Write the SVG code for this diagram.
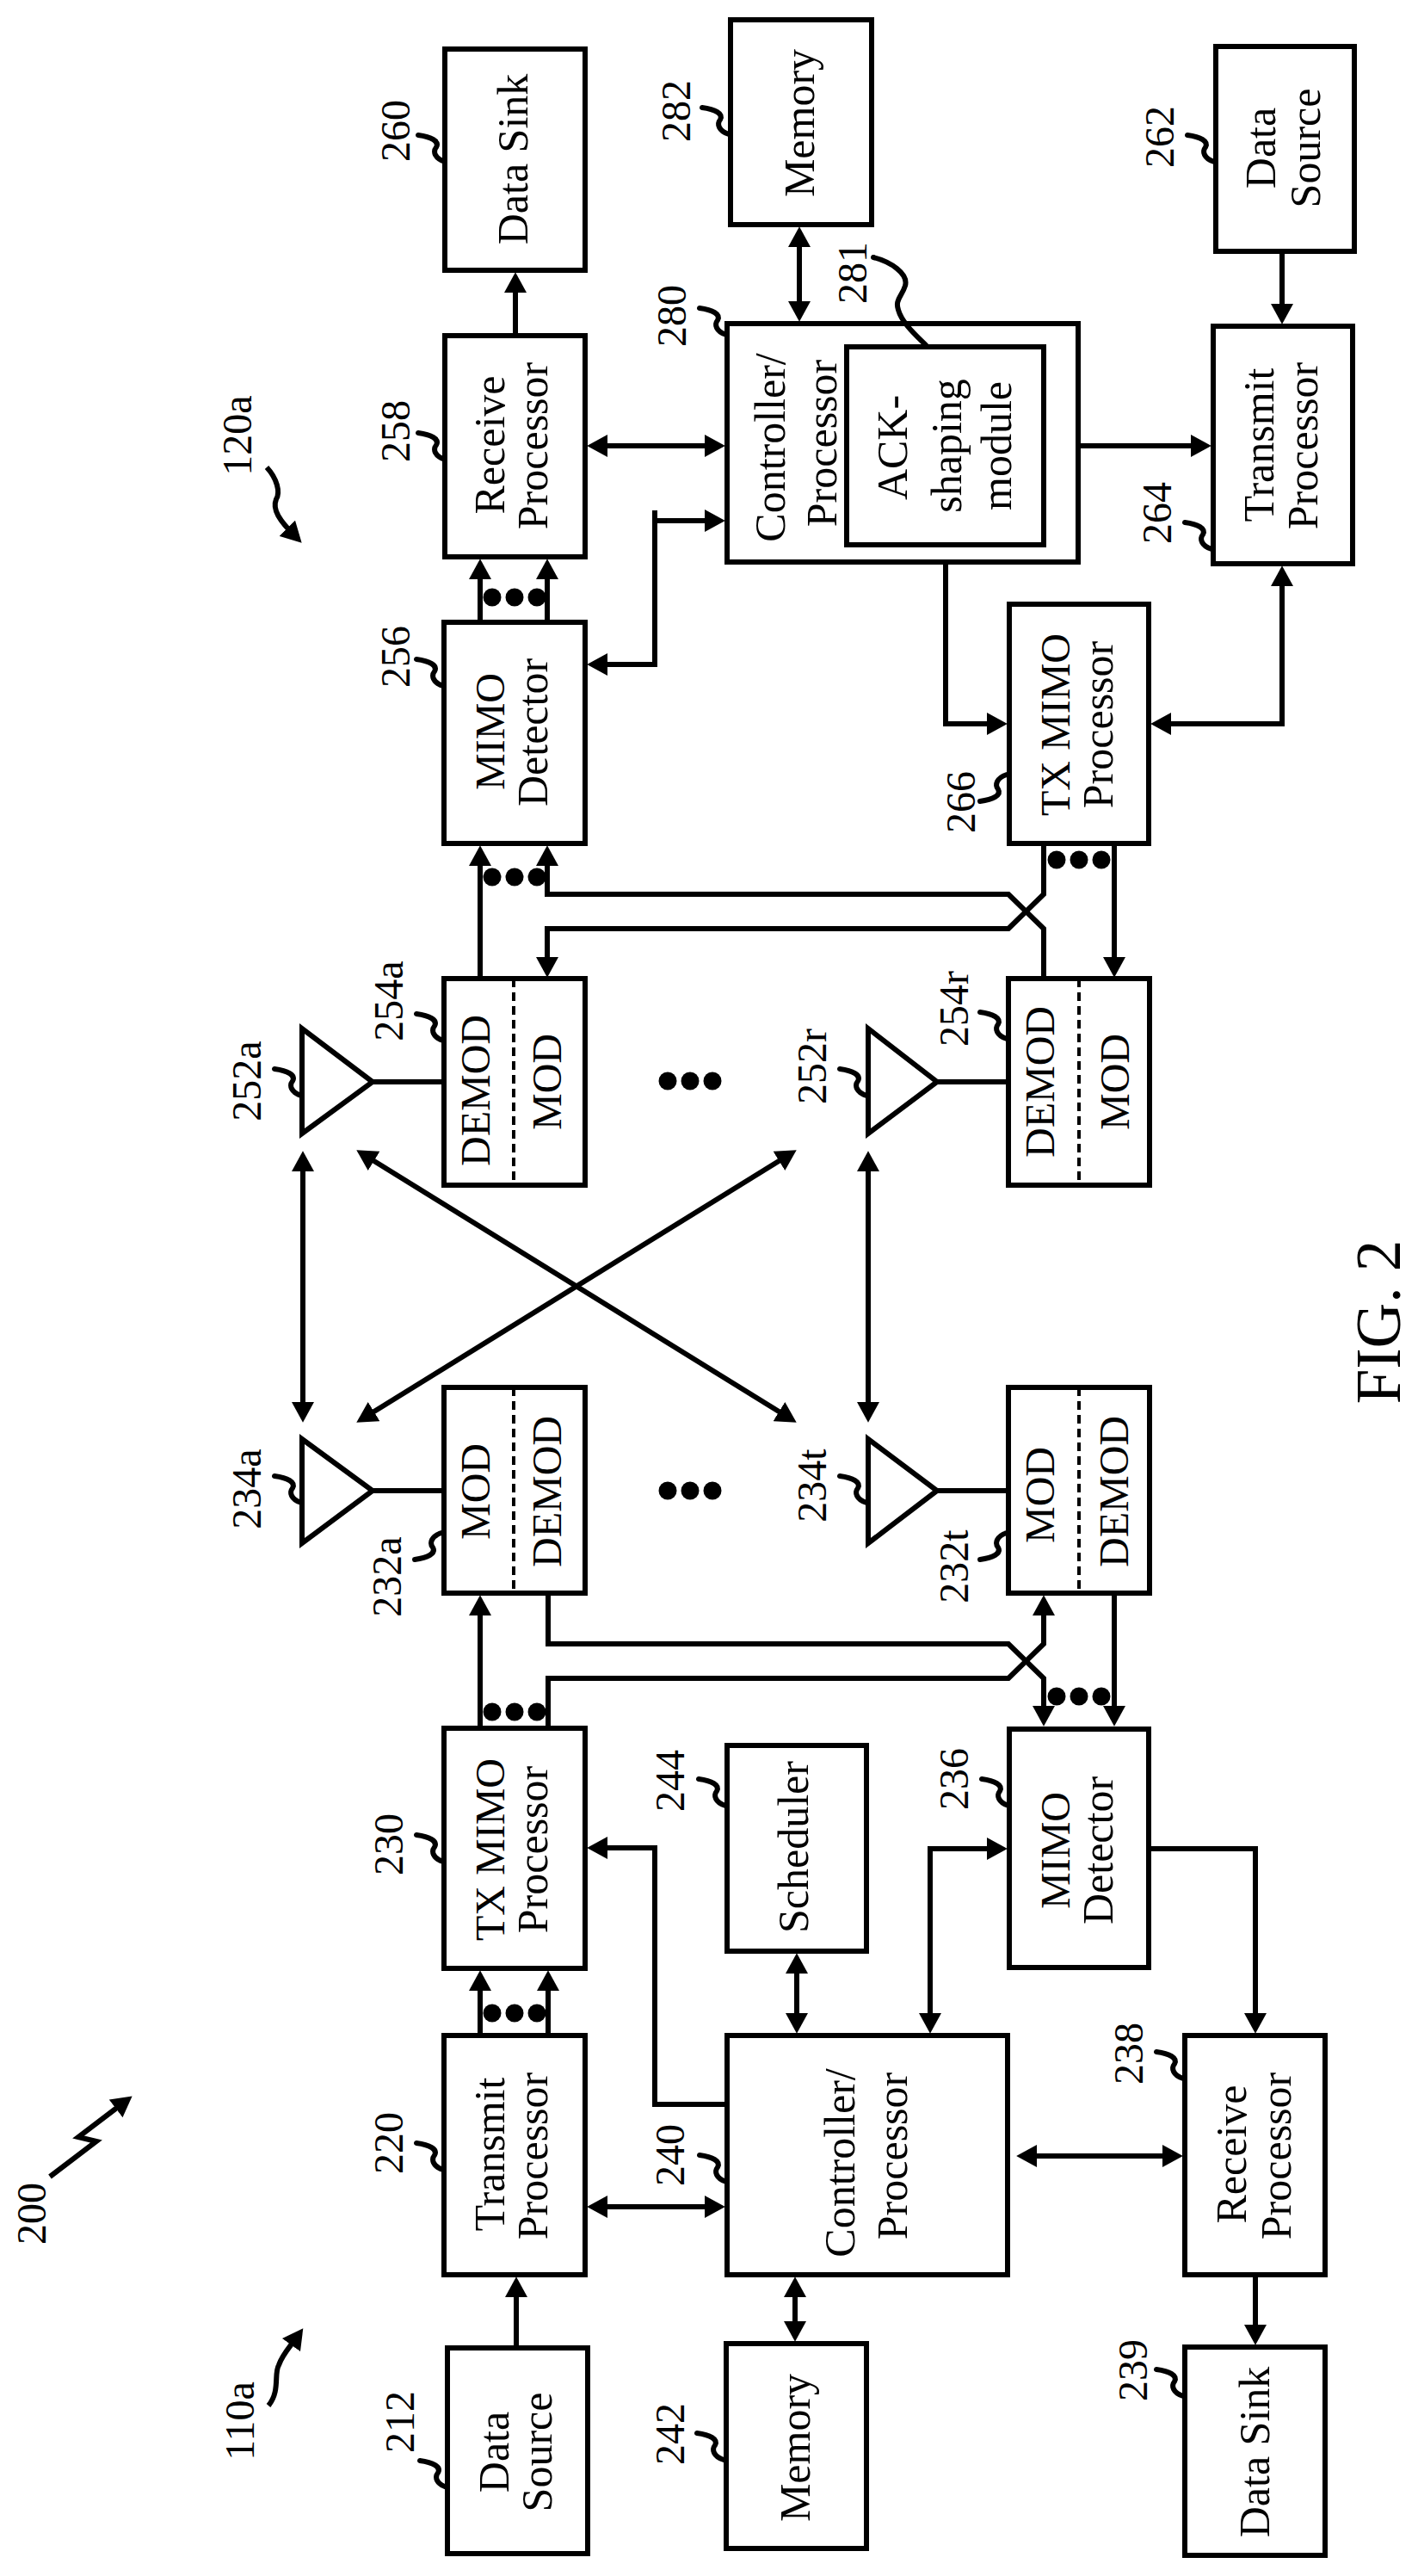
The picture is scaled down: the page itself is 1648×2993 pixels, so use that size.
<svg xmlns="http://www.w3.org/2000/svg" xmlns:xlink="http://www.w3.org/1999/xlink" width="1648" height="2993" viewBox="0 0 1648 2993">
<style>
text{font-family:"Liberation Serif","Times New Roman",serif;fill:#000;text-anchor:middle}
.t{font-size:50px}.u{font-size:48px}.r{font-size:48px}.f{font-size:73px}
.b{fill:#fff;stroke:#000;stroke-width:6}
.l{fill:none;stroke:#000;stroke-width:6}
.a{marker-end:url(#ah)}.d{marker-start:url(#ah);marker-end:url(#ah)}
.q{fill:none;stroke:#000;stroke-width:6;stroke-linecap:round}
.dash{fill:none;stroke:#000;stroke-width:4;stroke-dasharray:10 6}
</style>
<defs>
<marker id="ah" markerUnits="userSpaceOnUse" markerWidth="24" markerHeight="26" viewBox="0 0 22 24" refX="12" refY="12" orient="auto-start-reverse"><path d="M0,0L22,12L0,24Z" fill="#000"/></marker>
<path id="sq" class="q" d="M0,0C-12,-4 -14,-12 -10,-17C-6,-24 -16,-29 -31,-31"/>
<g id="dots"><circle cx="-26" cy="0" r="10.5"/><circle cx="0" cy="0" r="10.5"/><circle cx="26" cy="0" r="10.5"/></g>
</defs>
<rect width="1648" height="2993" fill="#fff"/>
<g id="connectors">
<path class="l a" d="M599,390V327"/>
<path class="l d" d="M929,274V363"/>
<path class="l a" d="M1490,292V366"/>
<path class="l d" d="M693,518H832"/>
<path class="l a" d="M761,593V772H693"/>
<path class="l a" d="M761,605H832"/>
<path class="l a" d="M1253,518H1397"/>
<path class="l a" d="M1099,653V841H1160"/>
<path class="l d" d="M1490,668V841H1348"/>
<path class="l a" d="M558,723V660"/>
<path class="l a" d="M636,723V660"/>
<path class="l a" d="M558,1137V993"/>
<path class="l a" d="M1213,1137V1079L1172,1039H636V993"/>
<path class="l a" d="M1213,980V1039L1172,1079H636V1125"/>
<path class="l a" d="M1295,980V1125"/>
<path class="l a" d="M558,2008V1864"/>
<path class="l a" d="M637,1851V1910H1172L1213,1950V1995"/>
<path class="l a" d="M637,2008V1950H1172L1213,1910V1864"/>
<path class="l a" d="M1295,1851V1995"/>
<path class="l a" d="M558,2365V2300"/>
<path class="l a" d="M637,2365V2300"/>
<path class="l a" d="M845,2445H761V2147H693"/>
<path class="l d" d="M926,2280V2352"/>
<path class="l d" d="M1081,2352V2148H1160"/>
<path class="l a" d="M1335,2148H1459V2352"/>
<path class="l d" d="M693,2564H832"/>
<path class="l d" d="M1192,2505H1364"/>
<path class="l a" d="M600,2728V2656"/>
<path class="l d" d="M924,2656V2710"/>
<path class="l a" d="M1459,2643V2714"/>
<path class="l d" d="M352,1348V1642"/>
<path class="l d" d="M1009,1348V1642"/>
<path class="l d" d="M423.5,1342L916.5,1647"/>
<path class="l d" d="M916.5,1342L423.5,1647"/>
<path class="l a" d="M58,2529L112,2488L91,2483L145,2442"/>
<path class="l a" d="M312,2795C326,2778 318,2758 324,2748C328,2736 336,2728 346,2714"/>
<path class="l a" d="M310,543C322,556 326,572 321,580C316,592 325,605 343,623"/>
<use xlink:href="#dots" href="#dots" x="598" y="694"/>
<use xlink:href="#dots" href="#dots" x="1254" y="999"/>
<use xlink:href="#dots" href="#dots" x="598" y="1019"/>
<use xlink:href="#dots" href="#dots" x="1254" y="1971"/>
<use xlink:href="#dots" href="#dots" x="598" y="1989"/>
<use xlink:href="#dots" href="#dots" x="598" y="2339"/>
<use xlink:href="#dots" href="#dots" x="802" y="1256"/>
<use xlink:href="#dots" href="#dots" x="802" y="1732"/>
</g>
<g id="n260"><rect class="b" x="517" y="57" width="163" height="257"/><text class="t" transform="translate(613,185) rotate(-90)">Data Sink</text><text class="r" transform="translate(476,152) rotate(-90)">260</text><use xlink:href="#sq" href="#sq" x="517" y="188"/></g>
<g id="n282"><rect class="b" x="849" y="23" width="164" height="238"/><text class="t" transform="translate(946,143) rotate(-90)">Memory</text><text class="r" transform="translate(802,129) rotate(-90)">282</text><use xlink:href="#sq" href="#sq" x="847" y="156"/></g>
<g id="n262"><rect class="b" x="1413" y="54" width="161" height="238"/><text class="t" transform="translate(1482,172) rotate(-90)">Data</text><text class="t" transform="translate(1534,172) rotate(-90)">Source</text><text class="r" transform="translate(1364,159) rotate(-90)">262</text><use xlink:href="#sq" href="#sq" x="1411" y="188"/></g>
<g id="n258"><rect class="b" x="517" y="390" width="163" height="257"/><text class="t" transform="translate(586,517) rotate(-90)">Receive</text><text class="t" transform="translate(636,518) rotate(-90)">Processor</text><text class="r" transform="translate(476,501) rotate(-90)">258</text><use xlink:href="#sq" href="#sq" x="517" y="534"/></g>
<g id="n280"><rect class="b" x="845" y="376" width="408" height="277"/><text class="t" transform="translate(912,520) rotate(-90)">Controller/</text><text class="t" transform="translate(972,515) rotate(-90)">Processor</text><text class="r" transform="translate(797,367) rotate(-90)">280</text><use xlink:href="#sq" href="#sq" x="844" y="389"/></g>
<g id="n281"><rect class="b" x="984" y="403" width="229" height="230"/><text class="t" transform="translate(1054,520) rotate(-90)">ACK-</text><text class="t" transform="translate(1117,518) rotate(-90)">shaping</text><text class="t" transform="translate(1175,518) rotate(-90)">module</text><text class="r" transform="translate(1007,317) rotate(-90)">281</text><path class="q" d="M1015,299C1035,304 1056,318 1052,332C1048,345 1040,348 1044,360C1048,375 1065,390 1077,402"/></g>
<g id="n264"><rect class="b" x="1410" y="379" width="162" height="276"/><text class="t" transform="translate(1480,517) rotate(-90)">Transmit</text><text class="t" transform="translate(1531,518) rotate(-90)">Processor</text><text class="r" transform="translate(1361,596) rotate(-90)">264</text><use xlink:href="#sq" href="#sq" x="1408" y="638"/></g>
<g id="n256"><rect class="b" x="516" y="723" width="164" height="257"/><text class="u" transform="translate(586,850) rotate(-90)">MIMO</text><text class="t" transform="translate(636,851) rotate(-90)">Detector</text><text class="r" transform="translate(476,763) rotate(-90)">256</text><use xlink:href="#sq" href="#sq" x="515" y="797"/></g>
<g id="n266"><rect class="b" x="1173" y="702" width="162" height="278"/><text class="u" transform="translate(1243,842) rotate(-90)">TX MIMO</text><text class="t" transform="translate(1293,842) rotate(-90)">Processor</text><text class="r" transform="translate(1133,932) rotate(-90)">266</text><use xlink:href="#sq" href="#sq" transform="translate(1170,900) scale(1,-1)"/></g>
<g id="n254a"><rect class="b" x="516" y="1137" width="164" height="240"/><path class="dash" d="M597,1137V1377"/><text class="u" transform="translate(569,1267) rotate(-90)">DEMOD</text><text class="u" transform="translate(652,1257) rotate(-90)">MOD</text><text class="r" transform="translate(468,1163) rotate(-90)">254a</text><use xlink:href="#sq" href="#sq" x="515" y="1209"/></g>
<g id="n254r"><rect class="b" x="1172" y="1137" width="164" height="240"/><path class="dash" d="M1254,1137V1377"/><text class="u" transform="translate(1225,1257) rotate(-90)">DEMOD</text><text class="u" transform="translate(1312,1257) rotate(-90)">MOD</text><text class="r" transform="translate(1125,1172) rotate(-90)">254r</text><use xlink:href="#sq" href="#sq" x="1170" y="1207"/></g>
<g id="n252a"><path class="l" d="M351,1195V1317L433,1257ZM433,1257H516"/><text class="r" transform="translate(303,1256) rotate(-90)">252a</text><use xlink:href="#sq" href="#sq" x="350" y="1273"/></g>
<g id="n252r"><path class="l" d="M1009,1195V1317L1089,1257ZM1089,1257H1172"/><text class="r" transform="translate(960,1239) rotate(-90)">252r</text><use xlink:href="#sq" href="#sq" x="1007" y="1273"/></g>
<g id="n232a"><rect class="b" x="516" y="1612" width="164" height="239"/><path class="dash" d="M597,1612V1851"/><text class="u" transform="translate(569,1733) rotate(-90)">MOD</text><text class="u" transform="translate(652,1733) rotate(-90)">DEMOD</text><text class="r" transform="translate(466,1832) rotate(-90)">232a</text><use xlink:href="#sq" href="#sq" transform="translate(513,1781) scale(1,-1)"/></g>
<g id="n232t"><rect class="b" x="1172" y="1612" width="164" height="239"/><path class="dash" d="M1254,1612V1851"/><text class="u" transform="translate(1225,1737) rotate(-90)">MOD</text><text class="u" transform="translate(1311,1733) rotate(-90)">DEMOD</text><text class="r" transform="translate(1125,1820) rotate(-90)">232t</text><use xlink:href="#sq" href="#sq" transform="translate(1170,1781) scale(1,-1)"/></g>
<g id="n234a"><path class="l" d="M351,1672V1793L433,1732ZM433,1732H516"/><text class="r" transform="translate(303,1730) rotate(-90)">234a</text><use xlink:href="#sq" href="#sq" x="350" y="1746"/></g>
<g id="n234t"><path class="l" d="M1009,1672V1793L1089,1732ZM1089,1732H1172"/><text class="r" transform="translate(960,1726) rotate(-90)">234t</text><use xlink:href="#sq" href="#sq" x="1007" y="1746"/></g>
<g id="n230"><rect class="b" x="516" y="2008" width="164" height="279"/><text class="u" transform="translate(586,2149) rotate(-90)">TX MIMO</text><text class="t" transform="translate(636,2149) rotate(-90)">Processor</text><text class="r" transform="translate(468,2143) rotate(-90)">230</text><use xlink:href="#sq" href="#sq" x="515" y="2163"/></g>
<g id="n244"><rect class="b" x="845" y="2028" width="162" height="239"/><text class="t" transform="translate(939,2146) rotate(-90)">Scheduler</text><text class="r" transform="translate(795,2069) rotate(-90)">244</text><use xlink:href="#sq" href="#sq" x="843" y="2098"/></g>
<g id="n236"><rect class="b" x="1173" y="2009" width="162" height="277"/><text class="u" transform="translate(1243,2150) rotate(-90)">MIMO</text><text class="t" transform="translate(1293,2150) rotate(-90)">Detector</text><text class="r" transform="translate(1125,2067) rotate(-90)">236</text><use xlink:href="#sq" href="#sq" x="1172" y="2098"/></g>
<g id="n220"><rect class="b" x="516" y="2365" width="164" height="278"/><text class="t" transform="translate(586,2503) rotate(-90)">Transmit</text><text class="t" transform="translate(636,2505) rotate(-90)">Processor</text><text class="r" transform="translate(468,2490) rotate(-90)">220</text><use xlink:href="#sq" href="#sq" x="515" y="2521"/></g>
<g id="n240"><rect class="b" x="845" y="2365" width="326" height="278"/><text class="t" transform="translate(993,2513) rotate(-90)">Controller/</text><text class="t" transform="translate(1054,2505) rotate(-90)">Processor</text><text class="r" transform="translate(795,2504) rotate(-90)">240</text><use xlink:href="#sq" href="#sq" x="844" y="2535"/></g>
<g id="n238"><rect class="b" x="1377" y="2365" width="163" height="278"/><text class="t" transform="translate(1448,2503) rotate(-90)">Receive</text><text class="t" transform="translate(1500,2505) rotate(-90)">Processor</text><text class="r" transform="translate(1328,2386) rotate(-90)">238</text><use xlink:href="#sq" href="#sq" x="1375" y="2415"/></g>
<g id="n212"><rect class="b" x="520" y="2728" width="163" height="239"/><text class="t" transform="translate(591,2849) rotate(-90)">Data</text><text class="t" transform="translate(641,2849) rotate(-90)">Source</text><text class="r" transform="translate(481,2814) rotate(-90)">212</text><use xlink:href="#sq" href="#sq" x="519" y="2890"/></g>
<g id="n242"><rect class="b" x="844" y="2723" width="163" height="238"/><text class="t" transform="translate(941,2844) rotate(-90)">Memory</text><text class="r" transform="translate(795,2828) rotate(-90)">242</text><use xlink:href="#sq" href="#sq" x="841" y="2858"/></g>
<g id="n239"><rect class="b" x="1377" y="2727" width="163" height="242"/><text class="t" transform="translate(1475,2849) rotate(-90)">Data Sink</text><text class="r" transform="translate(1333,2754) rotate(-90)">239</text><use xlink:href="#sq" href="#sq" x="1375" y="2784"/></g>
<g id="labels"><text class="r" transform="translate(292,506) rotate(-90)">120a</text><text class="r" transform="translate(295,2813) rotate(-90)">110a</text><text class="r" transform="translate(53,2572) rotate(-90)">200</text><text class="f" transform="translate(1627,1536) rotate(-90)">FIG. 2</text></g>
</svg>
